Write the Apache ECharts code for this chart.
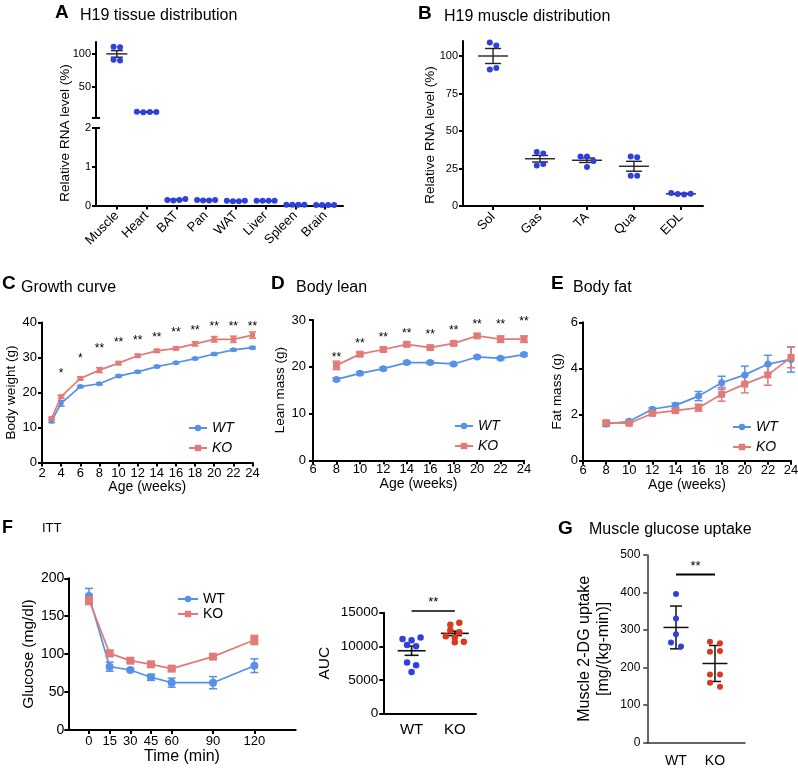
<!DOCTYPE html>
<html><head><meta charset="utf-8">
<script src="https://cdn.jsdelivr.net/npm/echarts@6/dist/echarts.min.js"></script>
<style>html,body{margin:0;padding:0;background:#fff}#c{width:798px;height:771px}</style>
</head><body><div id="c"></div>
<script>
// ===== DATA =====
const tissueCats = ['Muscle','Heart','BAT','Pan','WAT','Liver','Spleen','Brain'];
const tissueDots = [[111,110,91,90],[12.4,11.6,11.9,12.2],[0.14,0.13,0.14,0.17],[0.14,0.13,0.13,0.14],[0.12,0.11,0.11,0.12],[0.12,0.12,0.12,0.12],[0.02,0.02,0.02,0.02],[0.01,0.01,0.01,0.01]];
const tissueMean = [100,12,0.15,0.135,0.115,0.12,0.02,0.01];
const tissueSem  = [5,0.2,0.01,0.005,0.005,0.002,0.002,0.002];
const tissueUpperTicks = [50,100];
const tissueLowerTicks = [0,1,2];

const muscleCats = ['Sol','Gas','TA','Qua','EDL'];
const muscleDots = [[109,107,91,92],[36,35,27,28],[33,33,30,26],[33,32.5,20.2,20.2],[8.6,8.0,7.6,8.2]];
const muscleMean = [100,31.5,30.5,26.5,8.1];
const muscleSem  = [5,2.2,1.5,3.3,0.3];
const muscleTicks = [0,25,50,75,100];

const growthWeeks = [3,4,6,8,10,12,14,16,18,20,22,24];
const growthWT    = [11.8,16.9,21.7,22.5,24.7,25.9,27.4,28.5,29.7,31.0,32.2,32.8];
const growthWTErr = [0.4,0.8,0.3,0.3,0.3,0.3,0.3,0.3,0.3,0.3,0.3,0.3];
const growthKO    = [12.6,18.8,24.0,26.4,28.4,30.5,31.9,32.6,33.9,35.2,35.2,36.4];
const growthKOErr = [0.3,0.4,0.4,0.7,0.4,0.4,0.4,0.4,0.6,0.8,0.9,0.9];
const growthSigWeeks = [4,6,8,10,12,14,16,18,20,22,24];
const growthSigText  = ['*','*','**','**','**','**','**','**','**','**','**'];
const growthSigY     = [25.5,29.8,32.4,34.1,34.8,35.8,37.1,37.6,38.9,38.9,38.9];

const leanWeeks  = [8,10,12,14,16,18,20,22,24];
const leanWT     = [17.3,18.6,19.6,20.9,20.9,20.6,22.1,21.8,22.6];
const leanWTErr  = [0.3,0.3,0.3,0.3,0.3,0.3,0.3,0.3,0.3];
const leanKO     = [20.3,22.7,23.7,24.8,24.1,25.0,26.6,25.9,25.9];
const leanKOErr  = [0.9,0.4,0.4,0.4,0.4,0.4,0.4,0.7,0.7];
const leanSigText = ['**','**','**','**','**','**','**','**','**'];
const leanSigY    = [22.0,25.0,26.3,27.1,26.8,27.7,29.1,29.1,29.6];

const fatWeeks  = [8,10,12,14,16,18,20,22,24];
const fatWT     = [1.59,1.71,2.23,2.40,2.80,3.38,3.72,4.19,4.39];
const fatWTErr  = [0.1,0.06,0.06,0.1,0.2,0.28,0.38,0.38,0.55];
const fatKO     = [1.65,1.62,2.05,2.17,2.30,2.88,3.32,3.72,4.48];
const fatKOErr  = [0.08,0.05,0.06,0.08,0.15,0.3,0.38,0.45,0.45];

const ittTime  = [0,15,30,45,60,90,120];
const ittWT    = [176.7,83.5,79.1,69.5,62.4,62.4,84.8];
const ittWTErr = [10,6,2,4,6,8,9];
const ittKO    = [171.4,101,91.4,86.6,80.9,96.7,118.7];
const ittKOErr = [6,4,2,2,2,2,6];

const groupCats  = ['WT','KO'];
const aucWT   = [11100,10900,11300,10200,10000,7600,7200,6200];
const aucKO   = [13200,13500,12400,12100,11500,11300,10700,10600];
const aucMean = [9350,11930];
const aucSem  = [680,330];
const aucSigY = 15250;

const uptakeWT   = [396,331,289,267,256];
const uptakeKO   = [269,265,242,244,182,182,160,149];
const uptakeMean = [307,211];
const uptakeSD   = [57,48];
const uptakeSigY = 448;

// ===== STYLE =====
const FONT = '"Liberation Sans", Arial, Helvetica, sans-serif';
const DOT_BLUE = '#2f40dc', DOT_RED = '#d9391d';
const WT_C = '#5591e8', KO_C = '#e27b77';

function axis(o) {
  const c = o.c || '#000', lw = o.lw || 2;
  return {
    gridIndex: o.g, type: 'value', min: o.min, max: o.max, interval: o.interval,
    show: o.show !== false,
    name: o.name || '', nameLocation: 'middle', nameGap: o.nameGap || 0,
    nameTextStyle: {fontFamily: FONT, fontSize: o.nfs || 14, color: '#000', lineHeight: o.nlh || undefined},
    splitLine: {show: false},
    axisLine: {show: true, onZero: false, lineStyle: {color: c, width: lw}},
    axisTick: Object.assign({show: o.tick !== false, length: 4, lineStyle: {color: c, width: lw}}, o.ticks ? {customValues: o.ticks} : {}),
    axisLabel: Object.assign({color: '#000', fontFamily: FONT, fontSize: o.fs || 13, margin: o.m || 5, rotate: o.rot || 0,
      showMinLabel: true, showMaxLabel: true, formatter: o.fmt || (v => String(v))}, o.labels ? {customValues: o.labels} : {})
  };
}

function swarm(ys, d, s) {
  const idx = ys.map((y, i) => i).sort((a, b) => ys[a] - ys[b]);
  const rows = []; let cur = null;
  idx.forEach(i => {
    if (cur && Math.abs(ys[i] - ys[cur[0]]) < d * 0.9) cur.push(i);
    else { cur = [i]; rows.push(cur); }
  });
  const off = ys.map(() => 0);
  rows.forEach(r => { r.sort((a, b) => a - b); r.forEach((i, j) => { off[i] = (j - (r.length - 1) / 2) * s; }); });
  return off;
}

function dotPlot(xi, yi, groups, colorOf, d, s) {
  const data = [];
  Object.keys(groups).forEach(c => groups[c].forEach((v, k) => data.push([+c, v, k])));
  return {
    type: 'custom', xAxisIndex: xi, yAxisIndex: yi, data, z: 5, silent: true,
    renderItem: (p, api) => {
      const cat = api.value(0), k = api.value(2);
      const pts = groups[cat].map(v => api.coord([cat, v]));
      const off = swarm(pts.map(q => q[1]), d, s);
      return {type: 'circle', shape: {cx: pts[k][0] + off[k], cy: pts[k][1], r: d / 2}, style: {fill: colorOf(cat)}};
    }
  };
}

function meanBars(xi, yi, cats, means, errs, mw, cw, color, lw) {
  return {
    type: 'custom', xAxisIndex: xi, yAxisIndex: yi, z: 4, silent: true,
    data: cats.map(c => [c, means[c], errs[c]]),
    renderItem: (p, api) => {
      const x = api.value(0), m = api.value(1), e = api.value(2);
      const pm = api.coord([x, m]), pt = api.coord([x, m + e]), pb = api.coord([x, m - e]);
      const st = {stroke: color, lineWidth: lw};
      return {type: 'group', children: [
        {type: 'line', shape: {x1: pm[0] - mw, y1: pm[1], x2: pm[0] + mw, y2: pm[1]}, style: st},
        {type: 'line', shape: {x1: pt[0], y1: pt[1], x2: pb[0], y2: pb[1]}, style: st},
        {type: 'line', shape: {x1: pt[0] - cw, y1: pt[1], x2: pt[0] + cw, y2: pt[1]}, style: st},
        {type: 'line', shape: {x1: pb[0] - cw, y1: pb[1], x2: pb[0] + cw, y2: pb[1]}, style: st}
      ]};
    }
  };
}

function errBars(xi, yi, xs, vals, errs, color, cw, lw) {
  return {
    type: 'custom', xAxisIndex: xi, yAxisIndex: yi, z: 2, silent: true,
    data: xs.map((x, i) => [x, vals[i], errs[i]]),
    renderItem: (p, api) => {
      const x = api.value(0), m = api.value(1), e = api.value(2);
      const pt = api.coord([x, m + e]), pb = api.coord([x, m - e]);
      const st = {stroke: color, lineWidth: lw};
      return {type: 'group', children: [
        {type: 'line', shape: {x1: pt[0], y1: pt[1], x2: pb[0], y2: pb[1]}, style: st},
        {type: 'line', shape: {x1: pt[0] - cw, y1: pt[1], x2: pt[0] + cw, y2: pt[1]}, style: st},
        {type: 'line', shape: {x1: pb[0] - cw, y1: pb[1], x2: pb[0] + cw, y2: pb[1]}, style: st}
      ]};
    }
  };
}

function sigText(xi, yi, xs, ys, texts, fs) {
  return {
    type: 'custom', xAxisIndex: xi, yAxisIndex: yi, z: 6, silent: true,
    data: xs.map((x, i) => [x, ys[i], i]),
    renderItem: (p, api) => {
      const c = api.coord([api.value(0), api.value(1)]);
      return {type: 'text', x: c[0], y: c[1], style: {text: texts[api.value(2)], fontSize: fs, fontFamily: FONT, fill: '#000', align: 'center', verticalAlign: 'middle'}};
    }
  };
}

function sigBar(xi, yi, x0, x1, y, text, lw, fs) {
  return {
    type: 'custom', xAxisIndex: xi, yAxisIndex: yi, z: 6, silent: true,
    data: [[x0, y, x1]],
    renderItem: (p, api) => {
      const a = api.coord([api.value(0), api.value(1)]), b = api.coord([api.value(2), api.value(1)]);
      return {type: 'group', children: [
        {type: 'line', shape: {x1: a[0], y1: a[1], x2: b[0], y2: b[1]}, style: {stroke: '#000', lineWidth: lw}},
        {type: 'text', x: (a[0] + b[0]) / 2, y: a[1] - 2, style: {text: text, fontSize: fs, fontFamily: FONT, fill: '#000', align: 'center', verticalAlign: 'bottom'}}
      ]};
    }
  };
}

function breakMark(xi, yi, x, y) {
  return {
    type: 'custom', xAxisIndex: xi, yAxisIndex: yi, z: 6, silent: true, data: [[x, y]],
    renderItem: (p, api) => {
      const c = api.coord([api.value(0), api.value(1)]);
      return {type: 'line', shape: {x1: c[0] - 4, y1: c[1], x2: c[0] + 4, y2: c[1]}, style: {stroke: '#000', lineWidth: 2}};
    }
  };
}

function lineSeries(name, xi, yi, xs, vals, color, symbol, size) {
  return {
    type: 'line', name, xAxisIndex: xi, yAxisIndex: yi, z: 3,
    data: xs.map((x, i) => [x, vals[i]]),
    symbol, symbolSize: size, showSymbol: true,
    lineStyle: {color, width: 1.7}, itemStyle: {color, borderWidth: 0},
    emphasis: {disabled: true}
  };
}

const splitGroups = (pred) => { const g = {}; tissueMean.forEach((m, i) => { if (pred(m)) g[i] = tissueDots[i]; }); return g; };
const upperIdx = tissueMean.map((m, i) => i).filter(i => tissueMean[i] > 2);
const lowerIdx = tissueMean.map((m, i) => i).filter(i => tissueMean[i] <= 2);
const catIdx = (arr) => arr.map((c, i) => i);

// ===== CHART =====
const chart = echarts.init(document.getElementById('c'), null, {renderer: 'canvas'});
const titleT = (text, left, top, fs, bold) => ({text, left, top, padding: 0,
  textStyle: {fontFamily: FONT, fontSize: fs, fontWeight: bold ? 'bold' : 'normal', color: '#000'}});

const option = {
  animation: false,
  backgroundColor: '#fff',
  title: [
    titleT('A', 55, 3, 19, true), titleT('H19 tissue distribution', 80, 8, 16),
    titleT('B', 418, 4, 19, true), titleT('H19 muscle distribution', 444, 9, 16),
    titleT('C', 2, 274, 19, true), titleT('Growth curve', 21, 280, 16),
    titleT('D', 271, 274, 19, true), titleT('Body lean', 296, 280, 16),
    titleT('E', 551, 274, 19, true), titleT('Body fat', 573, 280, 16),
    titleT('F', 2, 519, 18, true), titleT('ITT', 42, 522, 13),
    titleT('G', 558, 519, 19, true), titleT('Muscle glucose uptake', 589, 522, 16)
  ],
  graphic: [
    {type: 'text', x: 65, y: 133, rotation: Math.PI / 2, style: {text: 'Relative RNA level (%)', fontSize: 13.5, fontFamily: FONT, fill: '#000', align: 'center', verticalAlign: 'middle'}},
    {type: 'text', x: 430, y: 135, rotation: Math.PI / 2, style: {text: 'Relative RNA level (%)', fontSize: 13.5, fontFamily: FONT, fill: '#000', align: 'center', verticalAlign: 'middle'}}
  ],
  legend: [
    {data: ['WT', 'KO'], orient: 'vertical', left: 188, top: 421, itemWidth: 18, itemHeight: 8, itemGap: 6, padding: 0, selectedMode: false,
      textStyle: {fontFamily: FONT, fontSize: 14, fontStyle: 'italic', color: '#000'}},
    {data: ['WT', 'KO'], orient: 'vertical', left: 454, top: 419, itemWidth: 18, itemHeight: 8, itemGap: 6, padding: 0, selectedMode: false,
      textStyle: {fontFamily: FONT, fontSize: 14, fontStyle: 'italic', color: '#000'}},
    {data: ['WT', 'KO'], orient: 'vertical', left: 732, top: 420, itemWidth: 18, itemHeight: 8, itemGap: 6, padding: 0, selectedMode: false,
      textStyle: {fontFamily: FONT, fontSize: 14, fontStyle: 'italic', color: '#000'}},
    {data: ['WT', 'KO'], orient: 'vertical', left: 177, top: 592, itemWidth: 20, itemHeight: 8, itemGap: 1, padding: 0, selectedMode: false,
      textStyle: {fontFamily: FONT, fontSize: 14, color: '#000'}}
  ],
  grid: [
    {left: 96, top: 42, width: 247, height: 76},        // 0 A upper
    {left: 96, top: 128, width: 247, height: 77.5},     // 1 A lower
    {left: 463, top: 41, width: 240, height: 165},      // 2 B
    {left: 42, top: 322.5, width: 210.5, height: 140},  // 3 C
    {left: 313, top: 320, width: 211, height: 140.3},   // 4 D
    {left: 583, top: 322.3, width: 208, height: 138.4}, // 5 E
    {left: 68.3, top: 578.3, width: 227.4, height: 151.7}, // 6 F
    {left: 383.3, top: 612.7, width: 92.7, height: 101}, // 7 AUC
    {left: 647.3, top: 555, width: 97.7, height: 187.7}  // 8 G
  ].map(g => Object.assign({containLabel: false, outerBoundsMode: 'none'}, g)),
  xAxis: [
    axis({g: 0, min: -0.7, max: 7.6, show: false}),
    axis({g: 1, min: -0.7, max: 7.6, labels: catIdx(tissueCats), ticks: catIdx(tissueCats), fmt: v => tissueCats[v] || '', rot: 45, m: 8, fs: 13}),
    axis({g: 2, min: -0.64, max: 4.47, labels: catIdx(muscleCats), ticks: catIdx(muscleCats), fmt: v => muscleCats[v] || '', rot: 45, m: 9, fs: 13}),
    axis({g: 3, min: 2, max: 24, interval: 2, m: 4, name: 'Age (weeks)', nameGap: 17}),
    axis({g: 4, min: 6, max: 24, interval: 2, m: 3, name: 'Age (weeks)', nameGap: 17}),
    axis({g: 5, min: 6, max: 24, interval: 2, m: 3, name: 'Age (weeks)', nameGap: 17}),
    axis({g: 6, min: -15, max: 150, labels: ittTime, ticks: ittTime, m: 5, name: 'Time (min)', nameGap: 14, nfs: 16}),
    axis({g: 7, min: -0.654, max: 1.49, labels: catIdx(groupCats), tick: false, fmt: v => groupCats[v] || '', m: 9, fs: 15}),
    axis({g: 8, min: -0.736, max: 1.77, labels: catIdx(groupCats), tick: false, fmt: v => groupCats[v] || '', m: 11, fs: 14, c: '#333', lw: 1.5})
  ],
  yAxis: [
    axis({g: 0, min: 3, max: 118, labels: tissueUpperTicks, ticks: tissueUpperTicks, fs: 11, m: 5}),
    axis({g: 1, min: 0, max: 2, labels: tissueLowerTicks, ticks: tissueLowerTicks, fs: 11, m: 5}),
    axis({g: 2, min: 0, max: 110, labels: muscleTicks, ticks: muscleTicks, fs: 11, m: 5}),
    axis({g: 3, min: 0, max: 40, interval: 10, m: 5, name: 'Body weight (g)', nameGap: 24, nfs: 13.5}),
    axis({g: 4, min: 0, max: 30, interval: 10, m: 7, name: 'Lean mass (g)', nameGap: 23, nfs: 13.5}),
    axis({g: 5, min: 0, max: 6, interval: 2, m: 5, name: 'Fat mass (g)', nameGap: 19, nfs: 13.5}),
    axis({g: 6, min: 0, max: 200, interval: 50, m: 4, fs: 14, name: 'Glucose (mg/dl)', nameGap: 31, nfs: 15.5}),
    axis({g: 7, min: 0, max: 15000, interval: 5000, m: 5, fs: 13.5, name: 'AUC', nameGap: 51, nfs: 15.5}),
    axis({g: 8, min: 0, max: 500, interval: 100, m: 7, fs: 12, c: '#333', lw: 1.5, name: 'Muscle 2-DG uptake\n[mg/(kg-min)]', nameGap: 34, nfs: 16, nlh: 19})
  ],
  series: [
    // A
    meanBars(0, 0, upperIdx, tissueMean, tissueSem, 10.5, 6, '#222', 1.4),
    meanBars(1, 1, lowerIdx, tissueMean, tissueSem, 10.5, 6, '#222', 1.4),
    dotPlot(0, 0, splitGroups(m => m > 2), () => DOT_BLUE, 6, 6.5),
    dotPlot(1, 1, splitGroups(m => m <= 2), () => DOT_BLUE, 6, 6),
    breakMark(0, 0, -0.7, 3),
    breakMark(1, 1, -0.7, 2),
    // B
    meanBars(2, 2, catIdx(muscleCats), muscleMean, muscleSem, 15, 8, '#222', 1.4),
    dotPlot(2, 2, Object.assign({}, muscleDots), () => DOT_BLUE, 6, 6.5),
    // C
    errBars(3, 3, growthWeeks, growthWT, growthWTErr, WT_C, 3.5, 1.5),
    errBars(3, 3, growthWeeks, growthKO, growthKOErr, KO_C, 3.5, 1.5),
    lineSeries('WT', 3, 3, growthWeeks, growthWT, WT_C, 'circle', 5),
    lineSeries('KO', 3, 3, growthWeeks, growthKO, KO_C, 'rect', 5),
    sigText(3, 3, growthSigWeeks, growthSigY, growthSigText, 12),
    // D
    errBars(4, 4, leanWeeks, leanWT, leanWTErr, WT_C, 4, 1.5),
    errBars(4, 4, leanWeeks, leanKO, leanKOErr, KO_C, 4, 1.5),
    lineSeries('WT', 4, 4, leanWeeks, leanWT, WT_C, 'circle', 7),
    lineSeries('KO', 4, 4, leanWeeks, leanKO, KO_C, 'rect', 7),
    sigText(4, 4, leanWeeks, leanSigY, leanSigText, 12),
    // E
    errBars(5, 5, fatWeeks, fatWT, fatWTErr, WT_C, 4, 1.5),
    errBars(5, 5, fatWeeks, fatKO, fatKOErr, KO_C, 4, 1.5),
    lineSeries('WT', 5, 5, fatWeeks, fatWT, WT_C, 'circle', 7),
    lineSeries('KO', 5, 5, fatWeeks, fatKO, KO_C, 'rect', 7),
    // F
    errBars(6, 6, ittTime, ittWT, ittWTErr, WT_C, 4, 1.5),
    errBars(6, 6, ittTime, ittKO, ittKOErr, KO_C, 4, 1.5),
    lineSeries('WT', 6, 6, ittTime, ittWT, WT_C, 'circle', 8),
    lineSeries('KO', 6, 6, ittTime, ittKO, KO_C, 'rect', 8),
    // AUC
    meanBars(7, 7, [0, 1], aucMean, aucSem, 14, 7, '#111', 1.6),
    dotPlot(7, 7, {0: aucWT, 1: aucKO}, c => c === 0 ? DOT_BLUE : DOT_RED, 6.5, 9),
    sigBar(7, 7, 0, 1, aucSigY, '**', 1.5, 13),
    // G
    meanBars(8, 8, [0, 1], uptakeMean, uptakeSD, 12.5, 6, '#111', 1.5),
    dotPlot(8, 8, {0: uptakeWT, 1: uptakeKO}, c => c === 0 ? DOT_BLUE : DOT_RED, 6, 10),
    sigBar(8, 8, 0, 1, uptakeSigY, '**', 2, 13)
  ]
};
chart.setOption(option);
</script>
</body></html>
